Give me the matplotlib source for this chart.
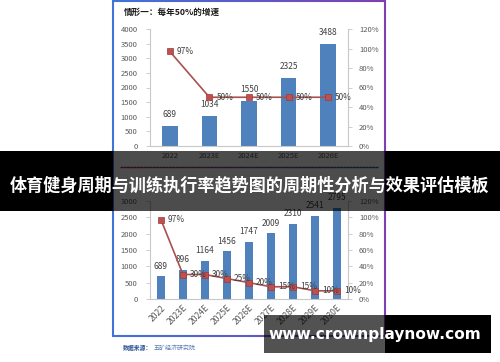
import matplotlib
matplotlib.use("Agg")
import matplotlib.pyplot as plt
import numpy as np
from matplotlib.collections import LineCollection
from matplotlib.patches import Rectangle
from matplotlib.colors import to_rgb

plt.rcParams['font.family'] = ['Noto Sans CJK SC', 'DejaVu Sans']

# ---- data ----
top_title = "情形一：每年50%的增速"
top_cats = ["2022", "2023E", "2024E", "2025E", "2026E"]
top_vals = [689, 1034, 1550, 2325, 3488]
top_rate = [0.97, 0.50, 0.50, 0.50, 0.50]
top_rate_labels = ["97%", "50%", "50%", "50%", "50%"]

bot_cats = ["2022", "2023E", "2024E", "2025E", "2026E", "2027E", "2028E", "2029E", "2030E"]
bot_vals = [689, 896, 1164, 1456, 1747, 2009, 2310, 2541, 2795]
bot_rate = [0.97, 0.30, 0.30, 0.25, 0.20, 0.15, 0.15, 0.10, 0.10]
bot_rate_labels = ["97%", "30%", "30%", "25%", "20%", "15%", "15%", "10%", "10%"]

banner_text = "体育健身周期与训练执行率趋势图的周期性分析与效果评估模板"
source_label = "数据来源："
source_text = "五矿经济研究院"
watermark = "www.crownplaynow.com"

BAR = '#4f81bd'
LINE = '#a9514f'
MARK = '#c0504d'
TICKC = '#595959'
AXC = '#c8c8c8'

W, H = 500, 362
fig = plt.figure(figsize=(5, 3.62), dpi=100)
fig.patch.set_facecolor('white')

def rect(x0, y0, x1, y1):
    return [x0 / W, 1 - y1 / H, (x1 - x0) / W, (y1 - y0) / H]

def style_axes(ax, ax2, ylim, yticks, fmt_left):
    ax.set_ylim(*ylim)
    ax.set_yticks(yticks)
    ax.set_yticklabels([fmt_left(v) for v in yticks])
    for s in ['top', 'right']:
        ax.spines[s].set_visible(False)
    for s in ['left', 'bottom']:
        ax.spines[s].set_color(AXC)
        ax.spines[s].set_linewidth(0.8)
    ax.tick_params(axis='y', direction='out', length=3, width=0.6, color=AXC,
                   labelsize=5.5, labelcolor=TICKC, pad=6)
    ax.tick_params(axis='x', length=0, labelsize=5.5, labelcolor=TICKC, pad=4)
    ax2.set_ylim(0, 1.2)
    pt = np.arange(0, 1.21, 0.2)
    ax2.set_yticks(pt)
    ax2.set_yticklabels([f"{int(round(v*100))}%" for v in pt])
    for s in ['top', 'left', 'bottom']:
        ax2.spines[s].set_visible(False)
    ax2.spines['right'].set_color(AXC)
    ax2.spines['right'].set_linewidth(0.8)
    ax2.tick_params(axis='y', direction='out', length=3, width=0.6, color=AXC,
                    labelsize=5.5, labelcolor=TICKC, pad=5)

# ---- top chart ----
ax1 = fig.add_axes(rect(150, 29, 348, 146))
x1 = np.arange(len(top_cats))
ax1.bar(x1, top_vals, width=0.39, color=BAR, zorder=2)
ax1.set_xlim(-0.5, len(top_cats) - 0.5)
ax1.set_xticks(x1)
ax1.set_xticklabels(top_cats)
ax1b = ax1.twinx()
style_axes(ax1, ax1b, (0, 4000), np.arange(0, 4001, 500), lambda v: f"{int(v)}")
for xi, v in zip(x1, top_vals):
    ax1.annotate(f"{v}", (xi, v), xytext=(0, 5), textcoords='offset points',
                 ha='center', va='bottom', fontsize=6, color='#404040', zorder=3)
ax1b.plot(x1, top_rate, color=LINE, lw=1.2, marker='s', ms=4,
          mfc=MARK, mec='#9c3b39', mew=0.5, zorder=4)
for xi, v, t in zip(x1, top_rate, top_rate_labels):
    ax1b.annotate(t, (xi, v), xytext=(5, 0), textcoords='offset points',
                  ha='left', va='center', fontsize=6, color='#404040', zorder=5)

# ---- bottom chart ----
ax2 = fig.add_axes(rect(150, 201, 348, 299))
x2 = np.arange(len(bot_cats))
ax2.bar(x2, bot_vals, width=0.36, color=BAR, zorder=2)
ax2.set_xlim(-0.5, len(bot_cats) - 0.5)
ax2.set_xticks(x2)
ax2.set_xticklabels(bot_cats, rotation=45, ha='right', va='top', rotation_mode='anchor')
ax2b = ax2.twinx()
style_axes(ax2, ax2b, (0, 3000), np.arange(0, 3001, 500), lambda v: f"{int(v)}")
ax2.tick_params(axis='x', pad=3, labelsize=6.2)
for xi, v in zip(x2, bot_vals):
    ax2.annotate(f"{v}", (xi, v), xytext=(0, 4), textcoords='offset points',
                 ha='center', va='bottom', fontsize=6, color='#404040', zorder=3)
ax2b.plot(x2, bot_rate, color=LINE, lw=1.2, marker='s', ms=4,
          mfc=MARK, mec='#9c3b39', mew=0.5, zorder=4)
for xi, v, t in zip(x2, bot_rate, bot_rate_labels):
    ax2b.annotate(t, (xi, v), xytext=(5, 0), textcoords='offset points',
                  ha='left', va='center', fontsize=6, color='#404040', zorder=5)

# ---- overlay in pixel coordinates ----
ov = fig.add_axes([0, 0, 1, 1], zorder=10)
ov.set_xlim(0, W)
ov.set_ylim(H, 0)
ov.axis('off')
ov.patch.set_alpha(0)

def grad_line(x0, y0, x1, y1, c0, c1, lw, z, n=80):
    xs = np.linspace(x0, x1, n + 1)
    ys = np.linspace(y0, y1, n + 1)
    segs = [[(xs[i], ys[i]), (xs[i + 1], ys[i + 1])] for i in range(n)]
    a, b = np.array(to_rgb(c0)), np.array(to_rgb(c1))
    cols = [tuple(a + (b - a) * t) for t in np.linspace(0, 1, n)]
    ov.add_collection(LineCollection(segs, colors=cols, linewidths=lw, zorder=z))

BLUE = '#3f74d8'
PURP = '#7e3fb3'
grad_line(113, 1, 385, 1, BLUE, PURP, 1.5, 2)
grad_line(113, 336, 385, 336, BLUE, PURP, 1.5, 2)
ov.plot([113, 113], [1, 336], color=BLUE, lw=1.5, zorder=2)
ov.plot([385, 385], [1, 336], color=PURP, lw=1.5, zorder=2)
grad_line(120, 167, 378, 167, '#9a2a58', '#2a5a98', 1.0, 2)

ov.text(124, 12, top_title, fontsize=6.2, fontweight='bold', color='#1a1a1a',
        ha='left', va='center', zorder=3)
ov.text(123, 348, source_label, fontsize=4.2, fontweight='bold', color='#2f5597',
        ha='left', va='center', zorder=3)
ov.text(154, 348, source_text, fontsize=4.3, color='#5b7bb5',
        ha='left', va='center', zorder=3)

# banner
ov.add_patch(Rectangle((0, 151), 113, 60, color='black', zorder=20, lw=0))
ov.add_patch(Rectangle((385, 151), 115, 60, color='black', zorder=20, lw=0))
ov.add_patch(Rectangle((113, 151), 272, 60, color='black', alpha=0.7, zorder=20, lw=0))
ov.text(250, 185, banner_text, fontsize=12.3, fontweight='bold', color='white',
        ha='center', va='center', zorder=21)

# watermark box
ov.add_patch(Rectangle((264, 315), 121, 38, color='black', alpha=0.68, zorder=20, lw=0))
ov.add_patch(Rectangle((385, 315), 106, 38, color='black', zorder=20, lw=0))
ov.text(375, 334, watermark, fontsize=11.1, fontweight='bold', color='white',
        ha='center', va='center', zorder=21, family=['DejaVu Sans'])

fig.savefig('out.png', dpi=100, facecolor='white')
